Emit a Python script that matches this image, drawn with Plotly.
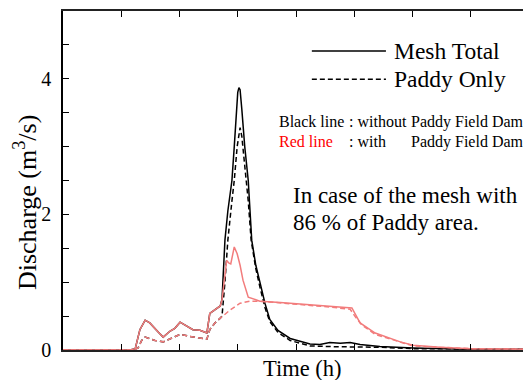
import plotly.graph_objects as go

# ---- data (time in h, discharge in m3/s) ----
t_total_nodam = [0, 1.15, 1.24, 1.32, 1.41, 1.49, 1.63, 1.72, 1.84, 1.92, 2.01, 2.11, 2.23, 2.35, 2.47, 2.52, 2.61, 2.70,
                 2.73, 2.78, 2.83, 2.90, 2.94, 2.97, 3.00, 3.02, 3.04, 3.07, 3.12, 3.18, 3.21, 3.24, 3.31, 3.38, 3.47,
                 3.55, 3.69, 3.90, 4.24, 4.41, 4.58, 4.76, 4.93, 5.10, 5.44, 6.01, 7.0, 8.0]
q_total_nodam = [0, 0, 0.02, 0.30, 0.44, 0.40, 0.27, 0.19, 0.28, 0.32, 0.41, 0.36, 0.30, 0.29, 0.25, 0.54, 0.60, 0.65,
                 0.75, 1.62, 2.05, 2.50, 3.00, 3.45, 3.80, 3.87, 3.84, 3.55, 3.00, 2.50, 2.05, 1.62, 1.25, 0.98, 0.68,
                 0.45, 0.29, 0.17, 0.09, 0.08, 0.11, 0.10, 0.11, 0.08, 0.05, 0.03, 0.01, 0.01]

t_paddy_nodam = [0, 1.20, 1.29, 1.35, 1.41, 1.58, 1.72, 1.87, 2.01, 2.18, 2.47, 2.52, 2.61, 2.70,
                 2.73, 2.78, 2.83, 2.90, 2.94, 2.99, 3.04, 3.07, 3.12, 3.14, 3.18, 3.23, 3.31, 3.38, 3.47,
                 3.55, 3.69, 3.90, 4.24, 4.58, 5.01, 5.44, 6.01, 8.0]
q_paddy_nodam = [0, 0, 0.03, 0.14, 0.19, 0.14, 0.12, 0.18, 0.23, 0.20, 0.16, 0.30, 0.40, 0.47,
                 0.50, 1.00, 1.62, 2.20, 2.50, 3.00, 3.28, 3.15, 2.70, 2.50, 2.20, 1.62, 1.20, 0.93, 0.62,
                 0.42, 0.26, 0.14, 0.06, 0.05, 0.05, 0.04, 0.02, 0.01]

t_total_dam = [0, 1.15, 1.24, 1.32, 1.41, 1.49, 1.63, 1.72, 1.84, 1.92, 2.01, 2.11, 2.23, 2.35, 2.47, 2.52, 2.61, 2.70,
               2.73, 2.78, 2.81, 2.85, 2.88, 2.94, 2.99, 3.04, 3.09, 3.18, 3.30, 3.38, 3.73, 4.07, 4.62, 4.93,
               4.96, 5.10, 5.36, 5.79, 6.01, 6.47, 7.0, 8.0]
q_total_dam = [0, 0, 0.02, 0.30, 0.44, 0.40, 0.27, 0.19, 0.28, 0.32, 0.41, 0.36, 0.30, 0.29, 0.25, 0.54, 0.60, 0.65,
               0.74, 1.10, 1.32, 1.28, 1.27, 1.52, 1.42, 1.25, 1.03, 0.78, 0.74, 0.72, 0.70, 0.68, 0.65, 0.63,
               0.62, 0.40, 0.25, 0.12, 0.07, 0.04, 0.02, 0.01]

t_paddy_dam = [0, 1.20, 1.29, 1.35, 1.41, 1.58, 1.72, 1.87, 2.01, 2.18, 2.47, 2.52, 2.61, 2.70,
               2.78, 2.87, 3.04, 3.21, 3.38, 3.73, 4.07, 4.62, 4.93, 5.01, 5.13, 5.36, 5.79, 6.01, 7.0, 8.0]
q_paddy_dam = [0, 0, 0.03, 0.14, 0.19, 0.14, 0.12, 0.18, 0.23, 0.20, 0.16, 0.30, 0.40, 0.47,
               0.53, 0.59, 0.69, 0.72, 0.72, 0.70, 0.67, 0.63, 0.60, 0.50, 0.37, 0.23, 0.11, 0.06, 0.02, 0.01]

y_tickvals = [0, 2, 4]
y_ticktext = ["0", "2", "4"]
x_tickvals = [0, 1, 2, 3, 4, 5, 6, 7, 8]

FONT = "Liberation Serif"
BLACK = "#000000"
RED = "#f27c7c"
DASH = "5px,3px"

fig = go.Figure()
fig.add_trace(go.Scatter(x=t_total_nodam, y=q_total_nodam, mode="lines",
                         line=dict(color=BLACK, width=1.5), showlegend=False))
fig.add_trace(go.Scatter(x=t_paddy_nodam, y=q_paddy_nodam, mode="lines",
                         line=dict(color=BLACK, width=1.5, dash=DASH), showlegend=False))
fig.add_trace(go.Scatter(x=t_paddy_dam, y=q_paddy_dam, mode="lines",
                         line=dict(color=RED, width=1.5, dash=DASH), showlegend=False))
fig.add_trace(go.Scatter(x=t_total_dam, y=q_total_dam, mode="lines",
                         line=dict(color=RED, width=1.5), showlegend=False))

# legend samples
fig.add_shape(type="line", xref="paper", yref="paper", x0=0.534, x1=0.693, y0=0.882, y1=0.882,
              line=dict(color=BLACK, width=1.5))
fig.add_shape(type="line", xref="paper", yref="paper", x0=0.534, x1=0.693, y0=0.799, y1=0.799,
              line=dict(color=BLACK, width=1.5, dash=DASH))

def note(text, x, y, size, color=BLACK, xanchor="left", angle=0):
    fig.add_annotation(text=text, x=x, y=y, xref="paper", yref="paper", showarrow=False,
                       xanchor=xanchor, yanchor="middle", textangle=angle,
                       font=dict(family=FONT, size=size, color=color))

note("Mesh Total", 0.706, 0.882, 23.5)
note("Paddy Only", 0.706, 0.799, 23.5)
note("Black line", 0.459, 0.673, 16)
note(": without", 0.610, 0.673, 16)
note("Paddy Field Dam", 0.743, 0.673, 16)
note("Red line", 0.459, 0.614, 16, color="#ff0000")
note(": with", 0.610, 0.614, 16)
note("Paddy Field Dam", 0.743, 0.614, 16)
note("In case of the mesh with", 0.490, 0.457, 23)
note("86 % of Paddy area.", 0.490, 0.375, 23)
note("Time (h)", 0.515, -0.055, 22.5, xanchor="center")
note("Discharge (m<sup>3</sup>/s)", -0.079, 0.434, 26, xanchor="center", angle=-90)

# page body has an 8px margin, so the figure is offset by (8, 8)
fig.update_layout(
    width=523, height=372,
    margin=dict(l=55, r=2, t=3, b=30),
    paper_bgcolor="white", plot_bgcolor="white",
    font=dict(family=FONT, size=20, color=BLACK),
    showlegend=False,
)
fig.update_xaxes(range=[0, 8], tickvals=x_tickvals, showticklabels=False,
                 ticks="inside", ticklen=6, tickwidth=1.2, tickcolor=BLACK,
                 showline=True, linecolor="#222222", linewidth=1.5, mirror="ticks",
                 showgrid=False, zeroline=False)
fig.update_yaxes(range=[0, 5], tickvals=y_tickvals, ticktext=y_ticktext,
                 ticks="inside", ticklen=6, tickwidth=1.2, tickcolor=BLACK,
                 minor=dict(dtick=0.5, ticks="inside", ticklen=6, tickcolor=BLACK, showgrid=False),
                 ticklabelstandoff=6,
                 tickfont=dict(family=FONT, size=20, color=BLACK),
                 showline=True, linecolor=BLACK, linewidth=1.5, mirror=False,
                 showgrid=False, zeroline=False)

fig.write_html("out.html")
